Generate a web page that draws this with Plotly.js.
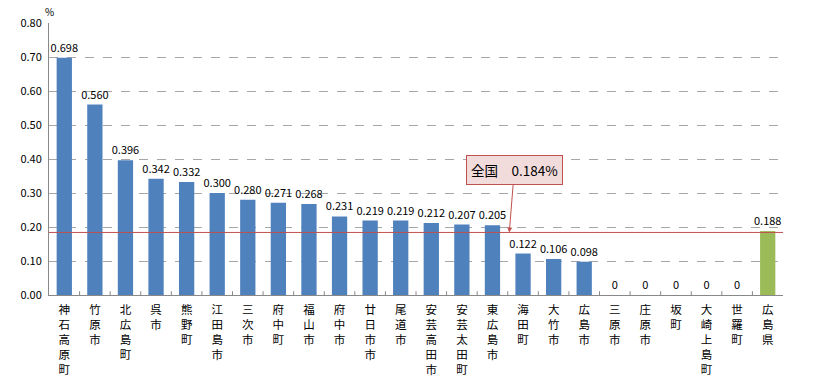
<!DOCTYPE html>
<html><head><meta charset="utf-8">
<script src="https://cdn.plot.ly/plotly-3.0.1.min.js"></script>
<style>body{margin:0;background:#fff}#c{width:813px;height:379px}</style>
</head><body><div id="c"></div>
<script>
const categories = ["神石高原町","竹原市","北広島町","呉市","熊野町","江田島市","三次市","府中町","福山市","府中市","廿日市市","尾道市","安芸高田市","安芸太田町","東広島市","海田町","大竹市","広島市","三原市","庄原市","坂町","大崎上島町","世羅町","広島県"];
const values = [0.698,0.560,0.396,0.342,0.332,0.300,0.280,0.271,0.268,0.231,0.219,0.219,0.212,0.207,0.205,0.122,0.106,0.098,0,0,0,0,0,0.188];
const nationalValue = 0.184;
const nationalLabel = "全国　0.184%";
const yTicks = [0,0.1,0.2,0.3,0.4,0.5,0.6,0.7,0.8];

const tickText = categories.map(c => c.split("").join("<br>"));
const colors = categories.map((c,i) => i === categories.length-1 ? "#9bbb59" : "#4f81bd");
const labels = values.map(v => v === 0 ? "0" : v.toFixed(3));
const FONT = "'Noto Sans CJK JP', sans-serif";

const trace = {
  type: "bar",
  x: categories.map((c,i)=>i),
  y: values,
  marker: {color: colors},
  text: labels,
  textposition: "outside",
  constraintext: "none",
  cliponaxis: false,
  textfont: {family: FONT, size: 11, color: "#000"},
  outsidetextfont: {family: FONT, size: 11, color: "#000"},
  hoverinfo: "x+y"
};

const layout = {
  width: 813, height: 379,
  margin: {l: 49, r: 30, t: 23, b: 84},
  paper_bgcolor: "#fff", plot_bgcolor: "#fff",
  showlegend: false,
  bargap: 0.5,
  font: {family: FONT, size: 11, color: "#000"},
  xaxis: {
    type: "linear",
    range: [-0.5, categories.length - 0.5],
    tickmode: "array",
    tickvals: categories.map((c,i)=>i),
    ticktext: tickText,
    ticks: "",
    ticklabelstandoff: 4,
    showline: true, linecolor: "#888", linewidth: 1,
    showgrid: false, zeroline: false,
    tickfont: {family: FONT, size: 11.5, color: "#000"},
    tickangle: 0
  },
  yaxis: {
    range: [0, 0.8],
    tickvals: yTicks,
    ticktext: yTicks.map(v => v.toFixed(2)),
    showline: true, linecolor: "#888", linewidth: 1,
    showgrid: true, gridcolor: "#a6a6a6", griddash: "dash", gridwidth: 1,
    zeroline: false,
    ticks: "", ticklen: 0,
    ticklabelstandoff: 4,
    tickfont: {family: FONT, size: 11, color: "#000"}
  },
  shapes: [
    {type: "line", xref: "paper", x0: 0, x1: 1, yref: "y", y0: nationalValue, y1: nationalValue,
     line: {color: "#c0504d", width: 1}, layer: "above"}
  ].concat(categories.slice(0,-1).map((c,i)=>({
    type: "line", xref: "x", yref: "y", x0: i+0.5, x1: i+0.5, y0: 0, y1: 0.011,
    line: {color: "#888", width: 1}
  }))),
  annotations: [
    {x: -0.5, y: 0.8, xref: "x", yref: "y", text: "%", showarrow: false,
     xanchor: "center", yanchor: "bottom", yshift: 2, font: {family: FONT, size: 10, color: "#000"}},
    {x: 14.55, y: nationalValue, xref: "x", yref: "y", text: nationalLabel,
     showarrow: true, arrowhead: 2, arrowsize: 1, arrowwidth: 1, arrowcolor: "#c0504d",
     ax: 5, ay: -62, bgcolor: "#f2dcdb", bordercolor: "#c0504d", borderwidth: 1, borderpad: 4,
     font: {family: FONT, size: 13.5, color: "#000"}}
  ]
};

Plotly.newPlot("c", [trace], layout, {displayModeBar: false, staticPlot: true});
</script></body></html>
